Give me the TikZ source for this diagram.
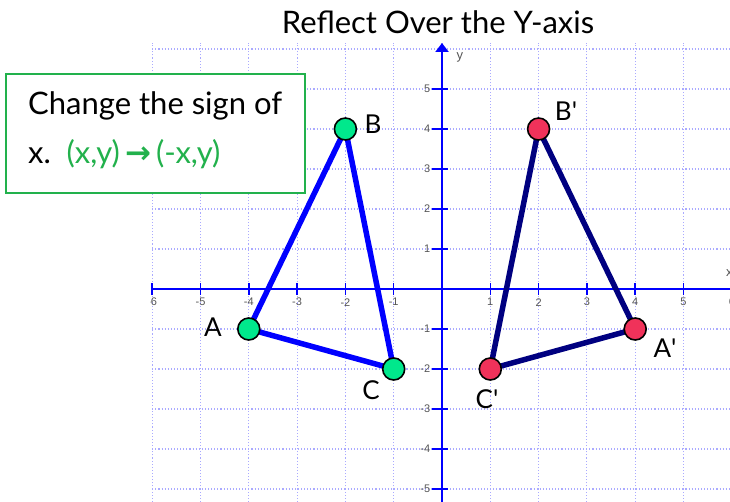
\documentclass[tikz,border=0pt]{standalone}
\usepackage{fontspec}
\setmainfont{Lato}
\newfontfamily\tickfont{Liberation Sans}
\newfontfamily\arrowfont{DejaVu Sans}
\usetikzlibrary{arrows.meta}
\definecolor{gridc}{RGB}{170,170,255}
\definecolor{axisblue}{RGB}{0,0,255}
\definecolor{navyc}{RGB}{0,0,128}
\definecolor{ptgreen}{RGB}{0,232,140}
\definecolor{ptred}{RGB}{240,50,90}
\definecolor{boxgreen}{RGB}{34,177,76}
\definecolor{tickgray}{RGB}{85,85,85}
\tikzset{
  gridline/.style={gridc, dotted, line width=1.1pt},
  axisline/.style={axisblue, line width=2.5pt},
  tickline/.style={axisblue, line width=1.5pt},
  ticklabel/.style={tickgray, font=\tickfont\fontsize{11}{12}\selectfont, inner sep=1pt},
  origtri/.style={axisblue, line width=5.5pt, line join=round},
  imgtri/.style={navyc, line width=5.5pt, line join=round},
  greendot/.style={circle, draw=black, line width=1.6pt, fill=ptgreen, minimum size=22pt, inner sep=0pt},
  reddot/.style={circle, draw=black, line width=1.6pt, fill=ptred, minimum size=22pt, inner sep=0pt},
  ptlabel/.style={font=\fontsize{26}{28}\selectfont, inner sep=0pt},
  bigtext/.style={font=\fontsize{31}{34}\selectfont, inner sep=0pt},
}
\begin{document}
\begin{tikzpicture}[x=1pt,y=-1pt]
\useasboundingbox (0,0) rectangle (730,502);
\begin{scope}
\clip (150,0) rectangle (730,502);
\begin{scope}[shift={(442,289)},x=48.3pt,y=40pt]
  % grid
  \foreach \i in {-6,...,6} \draw[gridline] (\i,-5.4) -- (\i,6.15);
  \foreach \j in {-5,...,6} \draw[gridline] (-6,\j) -- (6.2,\j);
  % axes
  \coordinate (xl) at (-6,0);
  \coordinate (xr) at (6.2,0);
  \coordinate (yb) at (0,-5.4);
  \coordinate (yt) at (0,6.15);
  \draw[axisline] (xl) -- (xr);
  \draw[axisline, -{Triangle[width=13pt,length=9pt]}] (yb) -- (yt);
  % ticks
  \foreach \i in {-6,-5,-4,-3,-2,-1,1,2,3,4,5,6} {
    \draw[tickline] (\i,-0.15) -- (\i,0.15);
    \node[ticklabel] (tx\i) at (\i,-0.33) {\i};
  }
  \foreach \j in {-5,-4,-3,-2,-1,1,2,3,4,5} {
    \draw[tickline] (-0.2,\j) -- (0.12,\j);
    \node[ticklabel, anchor=east] (ty\j) at (-0.22,\j) {\j};
  }
  \node[ticklabel, font=\tickfont\fontsize{13}{14}\selectfont] (ylab) at (0.37,5.8) {y};
  \node[ticklabel, font=\tickfont\fontsize{13}{14}\selectfont] (xlab) at (5.95,0.4) {x};
  % points
  \coordinate (A) at (-4,-1);
  \coordinate (B) at (-2,4);
  \coordinate (C) at (-1,-2);
  \coordinate (A2) at (4,-1);
  \coordinate (B2) at (2,4);
  \coordinate (C2) at (1,-2);
  \draw[origtri] (A) -- (B) -- (C) -- cycle;
  \draw[imgtri] (A2) -- (B2) -- (C2) -- cycle;
  \node[greendot] (Ad) at (A) {};
  \node[greendot] (Bd) at (B) {};
  \node[greendot] (Cd) at (C) {};
  \node[reddot] (A2d) at (A2) {};
  \node[reddot] (B2d) at (B2) {};
  \node[reddot] (C2d) at (C2) {};
\end{scope}
\end{scope}
% point labels
\node[ptlabel] (Al) at (213,327) {A};
\node[ptlabel] (Bl) at (373,124) {B};
\node[ptlabel] (Cl) at (371,390) {C};
\node[ptlabel] (A2l) at (665,348) {A\textquotesingle};
\node[ptlabel] (B2l) at (566,111) {B\textquotesingle};
\node[ptlabel] (C2l) at (487,399) {C\textquotesingle};
% title
\node[bigtext] (title) at (438,22) {Reflect Over the Y-axis};
% box
\node[draw=boxgreen, line width=2pt, fill=white, minimum width=299pt, minimum height=119pt, inner sep=0pt] (box) at (155.5,133.5) {};
\node[bigtext, anchor=base west] (line1) at (28,115) {Change the sign of};
\node[bigtext, anchor=base west] (line2) at (28,164) {x.\, \textcolor{boxgreen}{(x,y)\,{\arrowfont\bfseries →}\,(-x,y)}};
\end{tikzpicture}
\end{document}
